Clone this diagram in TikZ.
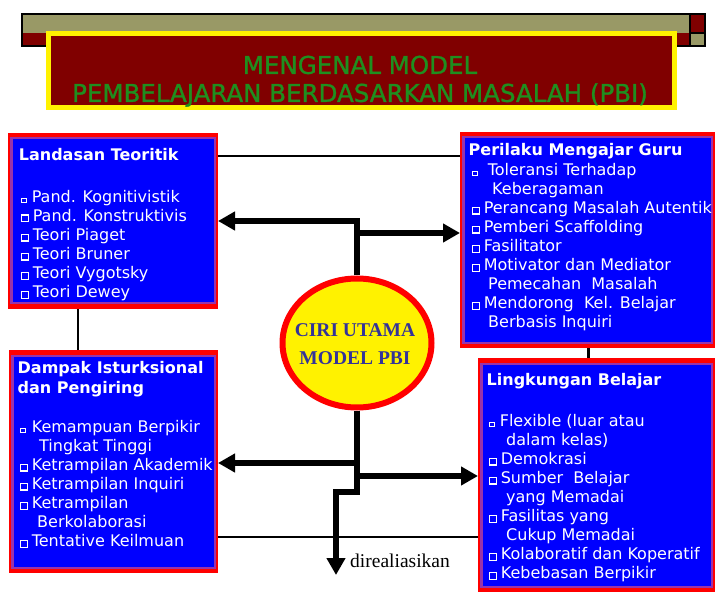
\documentclass[tikz,border=0pt]{standalone}
\usepackage{fontspec}
\setmainfont{DejaVu Sans}
\newfontfamily\timesfont{Liberation Serif}
\newfontfamily\bannerfont{DejaVu Sans}[FakeBold=1.2]
\usetikzlibrary{shapes.geometric, arrows.meta}
\definecolor{banner-olive}{HTML}{999966}
\definecolor{banner-red}{HTML}{800000}
\definecolor{title-green}{HTML}{1F8F1F}
\definecolor{box-blue}{HTML}{0000FF}
\definecolor{box-red}{HTML}{FF0000}
\definecolor{box-edge}{HTML}{9933AA}
\definecolor{ciri-blue}{HTML}{333399}
\newcommand{\bul}{{\fboxsep=0pt\fboxrule=1.2pt\fbox{\rule{0pt}{5.6pt}\rule{5.6pt}{0pt}}}\hspace{3.6pt}}
\newcommand{\bulsm}{{\fboxsep=0pt\fboxrule=1pt\fbox{\rule{0pt}{3.6pt}\rule{3.6pt}{0pt}}}\hspace{5pt}}

\begin{document}
\begin{tikzpicture}[x=1pt, y=-1pt,
      boxframe/.style={rectangle, fill=box-red, inner sep=0pt, outer sep=0pt,
        path picture={
          \fill[box-edge] ([shift={(2pt,-4.5pt)}]path picture bounding box.north west)
            rectangle ([shift={(-2pt,4.5pt)}]path picture bounding box.south east);
          \fill[box-blue] ([shift={(4.5pt,-6.5pt)}]path picture bounding box.north west)
            rectangle ([shift={(-4.5pt,6.5pt)}]path picture bounding box.south east);}},
      boxhead/.style={anchor=north west, inner sep=0pt, text=white, align=left,
        font=\bfseries\fontsize{16}{20}\selectfont},
      boxlist/.style={anchor=north west, inner sep=0pt, text=white, align=left,
        font=\fontsize{16}{19.1}\selectfont},
      bannerbox/.style={rectangle, fill=banner-red, draw=yellow, line width=5pt,
        minimum width=626pt, minimum height=74pt},
      bannertext/.style={anchor=north, inner sep=0pt, align=center, text=title-green,
        font=\bannerfont\fontsize{24.5}{28}\selectfont},
      ciri/.style={ellipse, draw=box-red, line width=6pt, fill=yellow, inner sep=0pt},
      ciritext/.style={inner sep=0pt, align=center, text=ciri-blue,
        font=\timesfont\bfseries\fontsize{19.5}{28}\selectfont},
      flow/.style={line width=5.5pt, -{Triangle[length=17pt, width=18pt]}},
      link/.style={line width=1.4pt}]
    \useasboundingbox (0,0) rectangle (720,612);

    \fill[banner-olive] (22,14) rectangle (690,33);
    \fill[banner-red] (22,33) rectangle (690,46);
    \fill[banner-red] (690,14) rectangle (705,33);
    \fill[banner-olive] (690,33) rectangle (705,46);
    \draw[line width=1.5pt] (22,14) rectangle (705,46);
    \draw[line width=1.5pt] (690,14) -- (690,46) (690,33) -- (705,33);
    \node[bannerbox] (banner) at (361.5,70.5) {};
    \node[bannertext] (bannerT) at (360,55.5)
          {MENGENAL MODEL\\PEMBELAJARAN BERDASARKAN MASALAH (PBI)};

    \node[boxframe, minimum width=210pt, minimum height=176pt] (landasan) at (113,221) {};
    \node[boxframe, minimum width=255pt, minimum height=216pt] (perilaku) at (587.5,240) {};
    \node[boxframe, minimum width=209pt, minimum height=223pt] (dampak) at (113.5,461.5) {};
    \node[boxframe, minimum width=237pt, minimum height=234pt] (lingkungan) at (596.5,475) {};

    \node[boxhead] (landasanH) at (18.7,147.8) {Landasan Teoritik};
    \node[boxlist] (landasanL) at (21,189.8)
          {\bulsm Pand. Kognitivistik\\
           \bul Pand. Konstruktivis\\
           \bul Teori Piaget\\
           \bul Teori Bruner\\
           \bul Teori Vygotsky\\
           \bul Teori Dewey};

    \node[boxhead] (perilakuH) at (468.5,142.8) {Perilaku Mengajar Guru};
    \node[boxlist] (perilakuL) at (472,162.8)
          {\bulsm\hspace{5pt}Toleransi Terhadap\\
           \hspace*{20pt}Keberagaman\\
           \bul Perancang Masalah Autentik\\
           \bul Pemberi Scaffolding\\
           \bul Fasilitator\\
           \bul Motivator dan Mediator\\
           \hspace*{16pt}Pemecahan\ \ Masalah\\
           \bul Mendorong\ \ Kel. Belajar\\
           \hspace*{16pt}Berbasis Inquiri};

    \node[boxhead] (dampakH) at (17.5,360.8) {Dampak Isturksional\\dan Pengiring};
    \node[boxlist] (dampakL) at (20,419.8)
          {\bulsm\hspace{1pt}Kemampuan Berpikir\\
           \hspace*{19pt}Tingkat Tinggi\\
           \bul Ketrampilan Akademik\\
           \bul Ketrampilan Inquiri\\
           \bul Ketrampilan\\
           \hspace*{17pt}Berkolaborasi\\
           \bul Tentative Keilmuan};

    \node[boxhead] (lingkunganH) at (486.5,372.8) {Lingkungan Belajar};
    \node[boxlist] (lingkunganL) at (489,413.8)
          {\bulsm Flexible (luar atau\\
           \hspace*{17pt}dalam kelas)\\
           \bul Demokrasi\\
           \bul Sumber\ \ Belajar\\
           \hspace*{17pt}yang Memadai\\
           \bul Fasilitas yang\\
           \hspace*{17pt}Cukup Memadai\\
           \bul Kolaboratif dan Koperatif\\
           \bul Kebebasan Berpikir};

    \node[ciri, minimum width=149pt, minimum height=129pt] (ciri) at (357,343) {};
    \node[ciritext] (ciriT) at (355,344.5) {CIRI UTAMA\\MODEL PBI};
    \node[anchor=base west, inner sep=0pt, font=\timesfont\fontsize{19.5}{22}\selectfont]
          (direal) at (350,567) {direaliasikan};

    \draw[link] (landasan.east |- 0,156) -- (perilaku.west |- 0,156);
    \draw[link] (landasan.south -| 78,0) -- (dampak.north -| 78,0);
    \draw[link] (dampak.east |- 0,537) -- (lingkungan.west |- 0,537);
    \draw[link, line width=3pt] (perilaku.south -| 588,0) -- (lingkungan.north -| 588,0);

    \draw[flow] (ciri.north) |- (landasan.east |- 0,221);
    \draw[flow] (ciri.north |- 0,233) -- (perilaku.west |- 0,233);
    \draw[flow] (ciri.south) |- (dampak.east |- 0,463);
    \draw[flow] (ciri.south |- 0,476) -- (lingkungan.west |- 0,476);
    \coordinate (realend) at (336,575);
    \draw[flow] (ciri.south) |- (realend |- 0,492) -- (realend);
  \end{tikzpicture}
\end{document}
